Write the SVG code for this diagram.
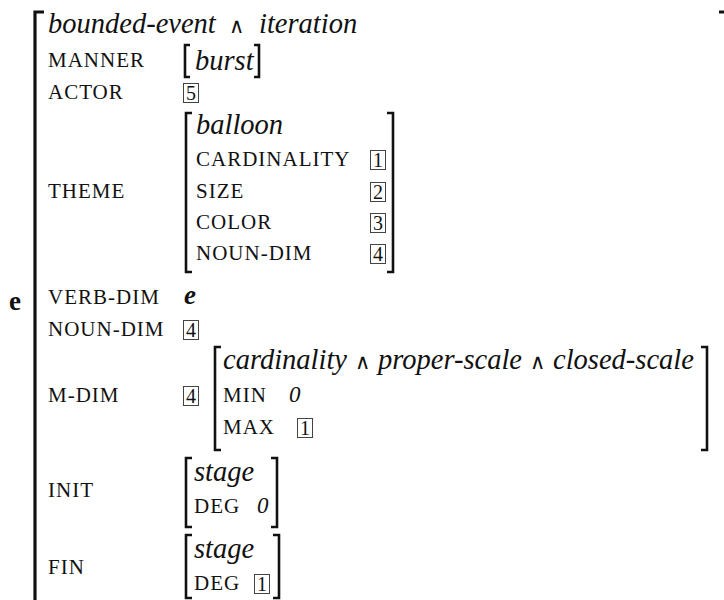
<svg xmlns="http://www.w3.org/2000/svg" width="724" height="600" viewBox="0 0 724 600">
<style>
  text { font-family: "Liberation Serif", "DejaVu Serif", serif; fill: #111; }
  .it { font-style: italic; font-size: 28.5px; }
  .sc { font-size: 21px; letter-spacing: 1px; }
  .num { font-size: 20px; text-anchor: middle; }
  .zero { font-style: italic; font-size: 23px; }
  .op { font-family: "DejaVu Sans", sans-serif; font-style: normal; font-size: 21px; font-weight: 300; }
  .br { fill: none; stroke: #111; stroke-width: 2.6; }
  .obr { fill: none; stroke: #111; stroke-width: 3.2; }
  .box { fill: none; stroke: #444; stroke-width: 1; }
</style>
<rect width="724" height="600" fill="#fff"/>

<g id="outer">
  <text x="9" y="310" font-weight="bold" font-size="27">e</text>
  <path class="obr" d="M44 12 H35 V610"/>
  <path class="obr" d="M719 12 H727 V610"/>
  <text class="it" x="48" y="33">bounded-event</text>
  <text class="op" x="229" y="33">∧</text>
  <text class="it" x="259" y="33">iteration</text>
</g>

<g id="manner">
  <text class="sc" x="48" y="67">MANNER</text>
  <path class="br" d="M190 45 H185 V77 H190"/>
  <text class="it" x="195" y="70">burst</text>
  <path class="br" d="M254 45 H259 V77 H254"/>
</g>

<g id="actor">
  <text class="sc" x="48" y="99">ACTOR</text>
  <rect class="box" x="183.5" y="83.5" width="15" height="19"/>
  <text class="num" x="191" y="100">5</text>
</g>

<g id="theme">
  <text class="sc" x="48" y="198">THEME</text>
  <path class="br" d="M192 113 H186 V272 H192"/>
  <path class="br" d="M387 113 H393 V272 H387"/>
  <text class="it" x="196" y="134">balloon</text>
  <text class="sc" x="196" y="166">CARDINALITY</text>
  <rect class="box" x="370.5" y="150.5" width="15" height="19"/>
  <text class="num" x="378" y="167">1</text>
  <text class="sc" x="196" y="198">SIZE</text>
  <rect class="box" x="370.5" y="182.5" width="15" height="19"/>
  <text class="num" x="378" y="199">2</text>
  <text class="sc" x="196" y="229">COLOR</text>
  <rect class="box" x="370.5" y="213.5" width="15" height="19"/>
  <text class="num" x="378" y="230">3</text>
  <text class="sc" x="196" y="260">NOUN-DIM</text>
  <rect class="box" x="370.5" y="244.5" width="15" height="19"/>
  <text class="num" x="378" y="261">4</text>
</g>

<g id="verb-dim">
  <text class="sc" x="48" y="304">VERB-DIM</text>
  <text x="184" y="304" font-style="italic" font-weight="bold" font-size="27">e</text>
</g>

<g id="noun-dim">
  <text class="sc" x="48" y="336">NOUN-DIM</text>
  <rect class="box" x="183.5" y="320.5" width="15" height="19"/>
  <text class="num" x="191" y="337">4</text>
</g>

<g id="m-dim">
  <text class="sc" x="48" y="402">M-DIM</text>
  <rect class="box" x="183.5" y="386.5" width="15" height="19"/>
  <text class="num" x="191" y="403">4</text>
  <path class="br" d="M221 347 H215 V450 H221"/>
  <path class="br" d="M701 347 H707 V450 H701"/>
  <text class="it" x="223" y="369">cardinality</text>
  <text class="op" x="355" y="369">∧</text>
  <text class="it" x="378" y="369">proper-scale</text>
  <text class="op" x="530" y="369">∧</text>
  <text class="it" x="553" y="369">closed-scale</text>
  <text class="sc" x="223" y="402">MIN</text>
  <text class="zero" x="289" y="402">0</text>
  <text class="sc" x="223" y="434">MAX</text>
  <rect class="box" x="297.5" y="418.5" width="15" height="19"/>
  <text class="num" x="305" y="435">1</text>
</g>

<g id="init">
  <text class="sc" x="48" y="497">INIT</text>
  <path class="br" d="M192 458 H186 V527 H192"/>
  <path class="br" d="M271 458 H277 V527 H271"/>
  <text class="it" x="194" y="481">stage</text>
  <text class="sc" x="194" y="513">DEG</text>
  <text class="zero" x="257" y="513">0</text>
</g>

<g id="fin">
  <text class="sc" x="48" y="574">FIN</text>
  <path class="br" d="M192 535 H186 V598 H192"/>
  <path class="br" d="M273 535 H279 V598 H273"/>
  <text class="it" x="194" y="558">stage</text>
  <text class="sc" x="194" y="590">DEG</text>
  <rect class="box" x="254.5" y="574.5" width="15" height="19"/>
  <text class="num" x="262" y="591">1</text>
</g>
</svg>
